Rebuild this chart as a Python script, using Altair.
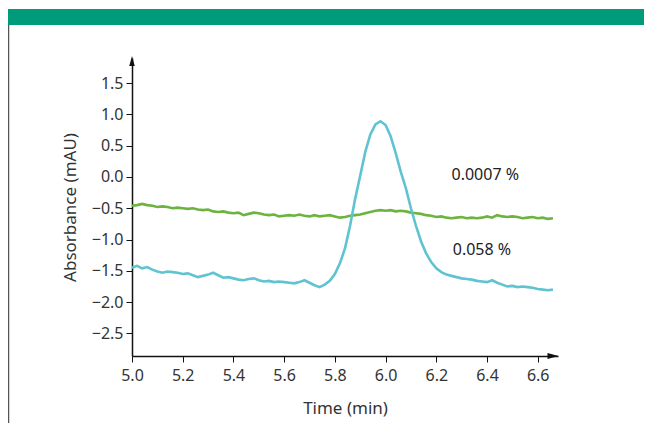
import altair as alt
import pandas as pd

# Green trace (0.0007 %)
green_t = [5.00,5.02,5.04,5.06,5.08,5.10,5.12,5.14,5.16,5.18,5.20,5.22,5.24,5.26,5.28,5.30,
           5.32,5.34,5.36,5.38,5.40,5.42,5.44,5.46,5.48,5.50,5.52,5.54,5.56,5.58,5.60,5.62,
           5.64,5.66,5.68,5.70,5.72,5.74,5.76,5.78,5.80,5.82,5.84,5.86,5.88,5.90,5.92,5.94,
           5.96,5.98,6.00,6.02,6.04,6.06,6.08,6.10,6.12,6.14,6.16,6.18,6.20,6.22,6.24,6.26,
           6.28,6.30,6.32,6.34,6.36,6.38,6.40,6.42,6.44,6.46,6.48,6.50,6.52,6.54,6.56,6.58,
           6.60,6.62,6.64,6.66]
green_v = [-0.46,-0.45,-0.43,-0.45,-0.46,-0.48,-0.47,-0.48,-0.50,-0.49,-0.50,-0.51,-0.50,-0.52,-0.53,-0.52,
           -0.55,-0.56,-0.55,-0.57,-0.58,-0.57,-0.61,-0.59,-0.57,-0.58,-0.60,-0.61,-0.60,-0.63,-0.62,-0.61,
           -0.62,-0.60,-0.62,-0.63,-0.61,-0.63,-0.62,-0.61,-0.63,-0.65,-0.64,-0.62,-0.61,-0.60,-0.58,-0.56,
           -0.54,-0.53,-0.54,-0.53,-0.55,-0.54,-0.55,-0.57,-0.58,-0.59,-0.61,-0.62,-0.64,-0.63,-0.65,-0.66,
           -0.65,-0.64,-0.66,-0.65,-0.66,-0.65,-0.63,-0.65,-0.61,-0.63,-0.64,-0.63,-0.64,-0.66,-0.65,-0.64,
           -0.66,-0.65,-0.67,-0.66]

# Cyan trace (0.058 %)
cyan_t = green_t
cyan_v = [-1.45,-1.42,-1.46,-1.44,-1.48,-1.51,-1.53,-1.51,-1.52,-1.53,-1.55,-1.54,-1.57,-1.60,-1.58,-1.56,
          -1.53,-1.57,-1.61,-1.60,-1.62,-1.64,-1.65,-1.63,-1.62,-1.65,-1.67,-1.66,-1.68,-1.67,-1.68,-1.69,
          -1.70,-1.68,-1.65,-1.69,-1.73,-1.76,-1.72,-1.66,-1.55,-1.38,-1.14,-0.78,-0.35,0.02,0.40,0.68,
          0.84,0.89,0.83,0.65,0.38,0.08,-0.18,-0.50,-0.78,-1.03,-1.22,-1.36,-1.46,-1.52,-1.56,-1.58,
          -1.60,-1.62,-1.63,-1.64,-1.66,-1.67,-1.68,-1.65,-1.69,-1.72,-1.75,-1.74,-1.76,-1.75,-1.76,-1.77,
          -1.79,-1.80,-1.81,-1.80]

x_ticks = [5.0, 5.2, 5.4, 5.6, 5.8, 6.0, 6.2, 6.4, 6.6]
y_ticks = [1.5, 1.0, 0.5, 0.0, -0.5, -1.0, -1.5, -2.0, -2.5]

label_text = ["0.0007 %", "0.058 %"]
label_t = [6.26, 6.265]
label_v = [0.03, -1.17]

W, H = 426, 298
FONT = "Noto Sans"

df = pd.DataFrame({
    "t": green_t + cyan_t,
    "v": green_v + cyan_v,
    "s": ["g"] * len(green_t) + ["c"] * len(cyan_t),
})
lab = pd.DataFrame({"t": label_t, "v": label_v, "txt": label_text})

xs = alt.Scale(domain=[5.0, 6.68], nice=False, zero=False)
ys = alt.Scale(domain=[-2.86, 1.9], nice=False, zero=False)

x_axis = alt.Axis(values=x_ticks, title="Time (min)", grid=False,
                  labelExpr="format(datum.value, '.1f')",
                  domainColor="#111", domainWidth=1.5, tickColor="#111", tickSize=6,
                  labelFont=FONT, labelFontSize=16, labelColor="#333", labelPadding=5,
                  labelOverlap=False, labelFlush=False,
                  titleFont=FONT, titleFontSize=17, titleFontWeight="normal", titleColor="#333",
                  titlePadding=17)
y_axis = alt.Axis(values=y_ticks, title="Absorbance (mAU)", grid=False,
                  labelExpr="replace(format(datum.value, '.1f'), '-', '\u2212')",
                  domainColor="#111", domainWidth=1.5, tickColor="#111", tickSize=6,
                  labelFont=FONT, labelFontSize=16, labelColor="#333", labelPadding=3,
                  labelOverlap=False, labelFlush=False,
                  titleFont=FONT, titleFontSize=17, titleFontWeight="normal", titleColor="#333",
                  titlePadding=12)

lines = alt.Chart(df).mark_line(strokeWidth=2.6, clip=True).encode(
    x=alt.X("t:Q", scale=xs, axis=x_axis),
    y=alt.Y("v:Q", scale=ys, axis=y_axis),
    color=alt.Color("s:N", scale=alt.Scale(domain=["g", "c"], range=["#6db33f", "#60c3d1"]), legend=None),
    detail="s:N",
)

labels = alt.Chart(lab).mark_text(align="left", baseline="middle", font=FONT, fontSize=16,
                                  color="#222").encode(
    x=alt.X("t:Q", scale=xs, axis=x_axis), y=alt.Y("v:Q", scale=ys, axis=y_axis), text="txt:N")

header = alt.Chart(pd.DataFrame({"a": [0]})).mark_rect(color="#009b7a").encode(
    x=alt.value(-126), x2=alt.value(520), y=alt.value(-49), y2=alt.value(-33))

border = alt.Chart(pd.DataFrame({"a": [0]})).mark_rule(color="#555", strokeWidth=1.5).encode(
    x=alt.value(-123.5), y=alt.value(-33), y2=alt.value(H + 70))

arrow_up = alt.Chart(pd.DataFrame({"a": [0]})).mark_point(
    shape="M0,-1L0.55,1L-0.55,1Z", filled=True, color="#111", size=100, opacity=1).encode(
    x=alt.value(0), y=alt.value(3))
arrow_right = alt.Chart(pd.DataFrame({"a": [0]})).mark_point(
    shape="M1,0L-1,-0.55L-1,0.55Z", filled=True, color="#111", size=121, opacity=1).encode(
    x=alt.value(W - 5), y=alt.value(H))

chart = alt.layer(header, border, lines, labels, arrow_up, arrow_right).properties(
    width=W, height=H,
    autosize=alt.AutoSizeParams(type="none"),
    padding={"left": 124, "top": 50, "right": 86, "bottom": 67},
    background="white",
).configure_view(stroke=None)

chart.save("out.html", embed_options={"renderer": "svg", "actions": False})
